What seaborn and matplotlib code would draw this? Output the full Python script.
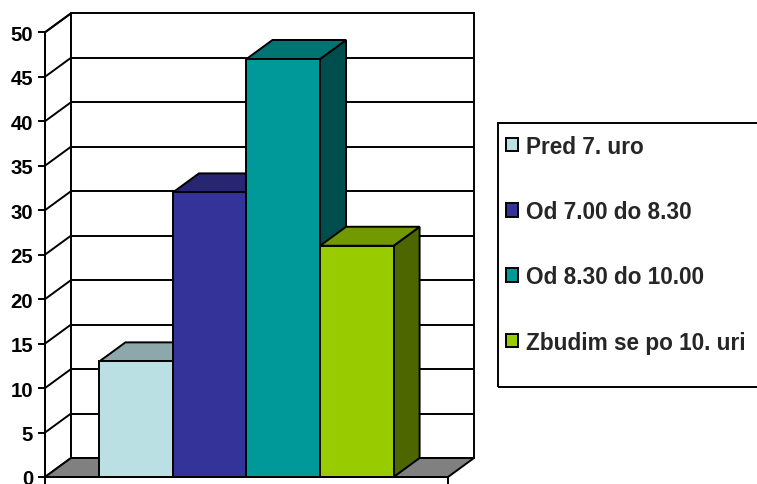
import matplotlib
matplotlib.use("Agg")
import matplotlib.pyplot as plt
from matplotlib.patches import Polygon, Rectangle, Patch
from matplotlib.lines import Line2D
from matplotlib.transforms import IdentityTransform
from matplotlib.colors import to_rgb
import numpy as np
import pandas as pd
import seaborn as sns

# Survey answers: when do you wake up
series = ["Pred 7. uro", "Od 7.00 do 8.30", "Od 8.30 do 10.00", "Zbudim se po 10. uri"]
values = [13, 32, 47, 26]
colors = ["#BBE0E3", "#333399", "#009999", "#99CC00"]
yticks = [0, 5, 10, 15, 20, 25, 30, 35, 40, 45, 50]

sns.set_theme(style="white")
plt.rcParams["font.family"] = ["Liberation Sans", "DejaVu Sans"]
plt.rcParams["font.weight"] = "bold"

W, H = 757, 485
fig = plt.figure(figsize=(W / 100, H / 100), dpi=100)
fig.patch.set_facecolor("white")
ax = fig.add_axes([45 / W, 7 / H, 403 / W, 444.7 / H])
ax.patch.set_visible(False)

df = pd.DataFrame({"skupina": [""] * len(series), "vrednost": values, "odgovor": series})
LW = 1.4
sns.barplot(data=df, x="skupina", y="vrednost", hue="odgovor", hue_order=series,
            palette=colors, saturation=1, width=0.73, edgecolor="black",
            linewidth=LW, legend=False, ax=ax)
bars = sorted(ax.patches, key=lambda p: p.get_x())

ax.set_xlim(-0.5, 0.5)
ax.set_ylim(0, 50)
ax.set_yticks(yticks)
ax.set_xticks([-0.5, 0.5])
ax.set_xticklabels(["", ""])
ax.set_xlabel("")
ax.set_ylabel("")

# depth of the 3D box, in pixels (right, up)
DX, DY = 26, 19
ID = IdentityTransform()


def disp(x, y, back=False):
    px, py = ax.transData.transform((x, y))
    if back:
        px += DX
        py += DY
    return (px, py)


def poly(pts, fc, z):
    ax.add_patch(Polygon(pts, closed=True, facecolor=fc, edgecolor="black",
                         linewidth=LW, transform=ID, clip_on=False, zorder=z,
                         joinstyle="miter"))


def seg(p, q, z=0.8):
    ax.add_line(Line2D([p[0], q[0]], [p[1], q[1]], color="black", linewidth=LW,
                       transform=ID, clip_on=False, zorder=z))


x0, x1 = ax.get_xlim()
top = yticks[-1]

# side wall, back wall and floor
poly([disp(x0, 0), disp(x0, top), disp(x0, top, True), disp(x0, 0, True)], "white", 0.5)
poly([disp(x0, 0, True), disp(x1, 0, True), disp(x1, top, True), disp(x0, top, True)], "white", 0.5)
for v in yticks[1:]:
    seg(disp(x0, v), disp(x0, v, True))
    if v < top:
        seg(disp(x0, v, True), disp(x1, v, True))
poly([disp(x0, 0), disp(x1, 0), disp(x1, 0, True), disp(x0, 0, True)], "#808080", 1.0)

# extrude the bars
for k, p in enumerate(bars):
    bx0 = p.get_x()
    bx1 = bx0 + p.get_width()
    h = p.get_height()
    rgb = np.array(to_rgb(p.get_facecolor()))
    base = 2 + 3 * k
    poly([disp(bx1, 0), disp(bx1, h), disp(bx1, h, True), disp(bx1, 0, True)], tuple(rgb * 0.5), base)
    poly([disp(bx0, h), disp(bx1, h), disp(bx1, h, True), disp(bx0, h, True)], tuple(rgb * 0.75), base + 1)
    p.set_zorder(base + 2)
    p.set_clip_on(False)

for s in ["top", "right"]:
    ax.spines[s].set_visible(False)
for s in ["left", "bottom"]:
    ax.spines[s].set_color("black")
    ax.spines[s].set_linewidth(LW)
    ax.spines[s].set_zorder(20)

ax.tick_params(axis="y", direction="out", length=5, width=LW, pad=3.6,
               labelsize=14.7, colors="black", left=True)
ax.tick_params(axis="x", direction="out", length=6, width=LW, bottom=True, colors="black")
for lbl in ax.get_yticklabels():
    lbl.set_fontweight("bold")

# legend
handles = [Patch(facecolor=c, edgecolor="black", linewidth=LW) for c in colors]
fig.legend(handles, series, loc="upper left", bbox_to_anchor=(506 / W, 1 - 135.5 / H),
           frameon=False, prop={"size": 16.3, "weight": "bold"},
           handlelength=0.55, handleheight=0.55, handletextpad=0.33,
           labelspacing=1.87, borderpad=0, borderaxespad=0)
fig.add_artist(Rectangle((498 / W, 1 - 388 / H), (770 - 498) / W, (388 - 124) / H,
                         transform=fig.transFigure, fill=False, edgecolor="black",
                         linewidth=LW))

fig.savefig("out.png", dpi=100, facecolor="white")
